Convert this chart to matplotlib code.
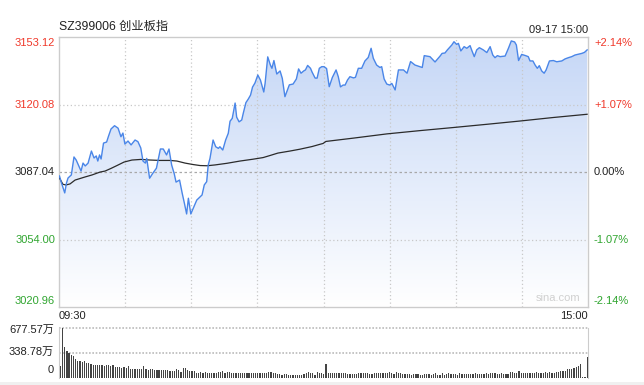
import numpy as np
import matplotlib.pyplot as plt
from matplotlib.patches import Polygon, Rectangle

plt.rcParams['font.family'] = ['Liberation Sans', 'Noto Sans CJK SC', 'DejaVu Sans']

W, H = 644, 385
prev_close = 3087.04
y_ticks = [3020.96, 3054.00, 3087.04, 3120.08, 3153.12]
y_labels = ['3020.96', '3054.00', '3087.04', '3120.08', '3153.12']
pct_labels = ['-2.14%', '-1.07%', '0.00%', '+1.07%', '+2.14%']
vol_ticks = [0, 338.78, 677.57]
vol_labels = ['0', '338.78万', '677.57万']
title = 'SZ399006 创业板指'
stamp = '09-17 15:00'

# minute index (0 = 09:30, 120 = 11:30/13:00, 240 = 15:00) and price
price_min = [0.2, 1, 2.6, 3.4, 4.1, 5.6, 6.8, 7.8, 9.4, 10, 10.9, 11.9, 13.2, 14.7, 15.9,
             16.9, 17.6, 18.4, 19.1, 20.2, 21.6, 22.5, 23.6, 25.2, 26.8, 28.1, 29, 29.9,
             31.3, 32.7, 34.5, 35.8, 37.1, 38.1, 39.2, 39.8, 41.1, 42.6, 44.2, 46, 47.3,
             48.8, 49.9, 51.1, 52.3, 53.1, 54.7, 55.9, 56.9, 57.9, 58.7, 59.8, 60.9, 62.5,
             64, 64.9, 65.9, 67, 67.7, 68.5, 69.9, 71.1, 72.3, 73, 74.3, 75.6, 76.8, 77.6,
             78.6, 79.9, 80.6, 81.7, 82.9, 83.6, 84.8, 85.9, 86.9, 87.8, 88.9, 90.2, 91.4,
             92.9, 93.5, 94.7, 95.9, 96.6, 97.5, 98.8, 100.3, 101.3, 102.5, 104.5, 106.2,
             107.7, 108.7, 109.8, 111, 111.8, 112.8, 114.1, 114.8, 116.2, 117.1, 118.1,
             119.2, 120.2, 121.4, 122.6, 124, 125.7, 126.7, 127.7, 128.9, 129.8, 130.9,
             132, 133.6, 134.5, 135.8, 137.3, 138.8, 140.3, 141.6, 142.6, 144.1, 145.6,
             146.4, 147.5, 148.7, 150, 151, 152.5, 154, 156.3, 157.9, 159.5, 161.5, 163.8,
             164.8, 165.7, 168.3, 170.6, 172.9, 173.8, 175.1, 176.2, 178.2, 179.2, 180.4,
             181.2, 182.3, 183.8, 185, 186.5, 187.2, 188.4, 189.5, 190.7, 192.5, 194.1,
             195.6, 196.8, 197.8, 198.9, 200.1, 202.4, 203.9, 205.2, 206.7, 207.5, 208.5,
             209.9, 211.7, 212.9, 213.7, 215, 216, 217, 217.9, 219, 220.1, 221, 222.5,
             224.3, 225.8, 228.1, 229.6, 231.1, 232.6, 234.1, 235.6, 237.2, 238.4, 239.6]
price_val = [3085.1, 3082.1, 3076.8, 3081.7, 3084.1, 3085.6, 3094.4, 3092.9, 3089.0, 3087.5,
             3091.4, 3090.0, 3091.4, 3097.3, 3093.9, 3094.9, 3092.4, 3095.4, 3093.4, 3101.2,
             3101.7, 3104.7, 3108.1, 3109.7, 3108.5, 3104.3, 3106.1, 3100.7, 3102.2, 3100.3,
             3102.7, 3101.9, 3098.8, 3092.4, 3091.4, 3093.7, 3084.0, 3086.5, 3088.9, 3098.3,
             3098.3, 3095.4, 3098.3, 3090.5, 3086.1, 3082.1, 3083.1, 3076.6, 3071.7, 3066.5,
             3074.2, 3066.5, 3069.3, 3073.3, 3074.9, 3075.8, 3080.7, 3082.3, 3090.5, 3093.7,
             3102.7, 3099.4, 3098.6, 3099.4, 3097.8, 3102.7, 3106.0, 3111.9, 3113.3, 3120.8,
             3113.9, 3111.6, 3112.5, 3115.8, 3121.0, 3122.8, 3124.7, 3128.6, 3130.6, 3134.5,
             3132.0, 3126.2, 3130.4, 3143.4, 3139.4, 3137.8, 3141.6, 3135.0, 3136.5, 3132.9,
             3123.9, 3129.7, 3130.1, 3132.6, 3137.5, 3135.4, 3136.5, 3137.0, 3139.2, 3137.8,
             3136.0, 3133.0, 3133.0, 3137.8, 3138.6, 3138.6, 3137.7, 3128.8, 3133.3, 3137.0,
             3133.7, 3128.7, 3129.6, 3129.6, 3132.1, 3133.7, 3133.1, 3133.4, 3137.8, 3137.8,
             3141.4, 3143.1, 3147.6, 3142.7, 3139.4, 3138.2, 3138.6, 3132.6, 3130.1, 3129.6,
             3130.4, 3127.2, 3137.0, 3137.0, 3135.4, 3141.1, 3139.4, 3138.6, 3138.2, 3144.0,
             3143.5, 3140.9, 3143.8, 3145.1, 3145.3, 3146.8, 3149.2, 3150.8, 3149.5, 3150.0,
             3146.3, 3148.4, 3147.6, 3148.9, 3146.8, 3143.5, 3146.8, 3147.9, 3146.8, 3145.5,
             3148.4, 3144.3, 3143.0, 3144.0, 3143.5, 3143.8, 3147.6, 3151.2, 3150.7, 3149.2,
             3141.6, 3144.6, 3144.0, 3143.5, 3141.4, 3141.4, 3139.4, 3137.8, 3139.1, 3136.5,
             3135.4, 3137.0, 3141.4, 3141.6, 3141.0, 3141.4, 3142.4, 3143.0, 3143.5, 3144.3,
             3144.7, 3145.1, 3145.6, 3146.8]

avg_min = [0.2, 1.8, 3.2, 5, 7.3, 11.8, 15, 18.6, 20.9, 23.6, 26.3, 29.5, 33.1, 37.2, 41.3,
           45.8, 50.4, 53.5, 57.2, 60.8, 64, 67.2, 70.8, 76.2, 82.1, 88, 92.6, 95.7, 99.3,
           104.8, 109.3, 114.8, 118.4, 119.8, 121.1, 133.4, 148.8, 163.8, 178.8, 194.2,
           209.2, 224.1, 239.6]
avg_val = [3084.1, 3081.0, 3080.7, 3081.2, 3083.1, 3084.6, 3085.6, 3087.0, 3087.5, 3088.8,
           3090.2, 3091.9, 3092.9, 3093.2, 3092.9, 3092.7, 3092.7, 3092.4, 3091.4, 3090.7,
           3090.2, 3090.1, 3090.5, 3091.3, 3092.4, 3093.3, 3094.1, 3095.1, 3096.3, 3097.3,
           3098.2, 3099.5, 3100.6, 3101.0, 3102.0, 3103.6, 3105.7, 3107.3, 3108.8, 3110.4,
           3112.0, 3113.7, 3115.3]

# volume per minute, in 万
vol_am = [158, 677.57, 425, 370, 334, 316, 303, 257, 235, 235, 221, 235, 203, 199, 194, 181,
          181, 181, 181, 181, 158, 181, 172, 163, 181, 154, 154, 145, 136, 149, 136, 163, 126,
          126, 117, 126, 126, 126, 167, 126, 108, 126, 117, 104, 104, 104, 113, 113, 108, 104,
          90, 95, 95, 122, 108, 81, 136, 136, 113, 90, 90, 99, 72, 72, 81, 72, 81, 63, 72, 72,
          72, 72, 81, 81, 90, 63, 77, 81, 72, 72, 72, 72, 63, 63, 72, 63, 63, 63, 63, 63, 63,
          72, 63, 63, 63, 81, 81, 72, 63, 54, 54, 45, 54, 54, 45, 45, 45, 36, 36, 45, 45, 54,
          63, 81, 72, 63, 45, 81, 72, 63, 54]
vol_pm = [194, 72, 72, 72, 63, 72, 72, 72, 63, 63, 54, 54, 54, 54, 54, 63, 72, 72, 63, 72, 54,
          54, 63, 63, 63, 72, 63, 63, 63, 81, 72, 54, 81, 63, 63, 54, 54, 54, 54, 45, 54, 54,
          54, 45, 45, 54, 54, 54, 45, 54, 72, 45, 45, 63, 45, 54, 63, 54, 54, 54, 45, 72, 54,
          54, 54, 54, 54, 54, 63, 54, 54, 54, 54, 63, 54, 63, 63, 63, 54, 54, 63, 54, 54, 54,
          81, 81, 63, 63, 99, 63, 72, 63, 63, 72, 63, 63, 81, 72, 72, 72, 81, 72, 81, 72, 72,
          81, 81, 90, 99, 99, 117, 117, 126, 136, 145, 163, 190, 14, 18, 280]

RED = '#f0392b'
GREEN = '#2fa52f'
GRID = '#c8c8c8'
LINE = '#4a86e8'


def fx(x):
    return x / W


def fy(y):
    return 1 - y / H


fig = plt.figure(figsize=(W / 100, H / 100), dpi=100)

# ---- price panel
ax = fig.add_axes([fx(59), fy(307), fx(588) - fx(59), fy(37) - fy(307)])
ax.set_xlim(0, 240)
ax.set_ylim(y_ticks[0], y_ticks[-1])

pm = np.array(price_min)
pv = np.array(price_val)

verts = [(pm[0], y_ticks[0])] + list(zip(pm, pv)) + [(pm[-1], y_ticks[0])]
clip = Polygon(verts, closed=True, facecolor='none', edgecolor='none')
ax.add_patch(clip)
grad = np.linspace(0, 1, 256).reshape(-1, 1)
top_c = np.array([0.77, 0.84, 0.965])
bot_c = np.array([1.0, 1.0, 1.0])
img = top_c[None, None, :] * (1 - grad[:, :, None]) + bot_c[None, None, :] * grad[:, :, None]
im = ax.imshow(img, extent=[0, 240, y_ticks[0], y_ticks[-1]], origin='upper',
               aspect='auto', zorder=1)
im.set_clip_path(clip)

for v in [y_ticks[1], y_ticks[3]]:
    ax.axhline(v, color=GRID, lw=0.9, ls=(0, (1, 2)), zorder=2)
ax.axhline(prev_close, color='#a8a8a8', lw=0.9, ls=(0, (2, 2)), zorder=2)
for m in range(30, 240, 30):
    ax.axvline(m, color=GRID, lw=0.9, ls=(0, (1, 2)), zorder=2)

ax.plot(pm, pv, color=LINE, lw=1.0, zorder=4)
ax.plot(avg_min, avg_val, color='#2b2b2b', lw=0.9, zorder=3)

ax.set_xticks([])
ax.set_yticks([])
for s in ax.spines.values():
    s.set_color('#cccccc')
    s.set_linewidth(1.0)

ax.text(0.985, 0.015, 'sina.com', transform=ax.transAxes, ha='right', va='bottom',
        fontsize=8, color='#d0d0d0', zorder=5)

# left / right labels
lab_y = [301, 240, 172, 105, 43]
colors = [GREEN, GREEN, '#222222', RED, RED]
for lbl, pct, yy, c in zip(y_labels, pct_labels, lab_y, colors):
    fig.text(fx(55), fy(yy), lbl, ha='right', va='center', fontsize=8, color=c)
    fig.text(fx(594), fy(yy), pct, ha='left', va='center', fontsize=8, color=c)

fig.text(fx(59), fy(30), title, ha='left', va='baseline', fontsize=8.8, color='#222222')
fig.text(fx(588), fy(33), stamp, ha='right', va='baseline', fontsize=8, color='#222222')
fig.text(fx(59), fy(316), '09:30', ha='left', va='center', fontsize=8, color='#222222')
fig.text(fx(588), fy(316), '15:00', ha='right', va='center', fontsize=8, color='#222222')

# ---- volume panel
vax = fig.add_axes([fx(59), fy(378), fx(588) - fx(59), fy(328) - fy(378)])
vols = np.array(vol_am + vol_pm, dtype=float)
vx = np.linspace(0.6, 239.6, len(vols))
vax.bar(vx, vols, width=0.55, color='#444444', linewidth=0, zorder=3)
vax.set_xlim(0, 240)
vax.set_ylim(0, vol_ticks[-1])
for v in vol_ticks[1:]:
    vax.axhline(v, color='#bbbbbb', lw=1.2, ls=(0, (1, 1)), zorder=1, clip_on=False)
vax.set_xticks([])
vax.set_yticks([])
vax.spines['top'].set_visible(False)
vax.spines['bottom'].set_visible(False)
for k in ['left', 'right']:
    vax.spines[k].set_color('#cccccc')

for lbl, yy in zip(vol_labels, [370, 352, 330]):
    fig.text(fx(54), fy(yy), lbl, ha='right', va='center', fontsize=8, color='#222222')

fig.patches.append(Rectangle((0, 0), 1, fy(382), transform=fig.transFigure,
                             facecolor='#f0f0f0', edgecolor='none'))

fig.savefig('out.png', dpi=100)
